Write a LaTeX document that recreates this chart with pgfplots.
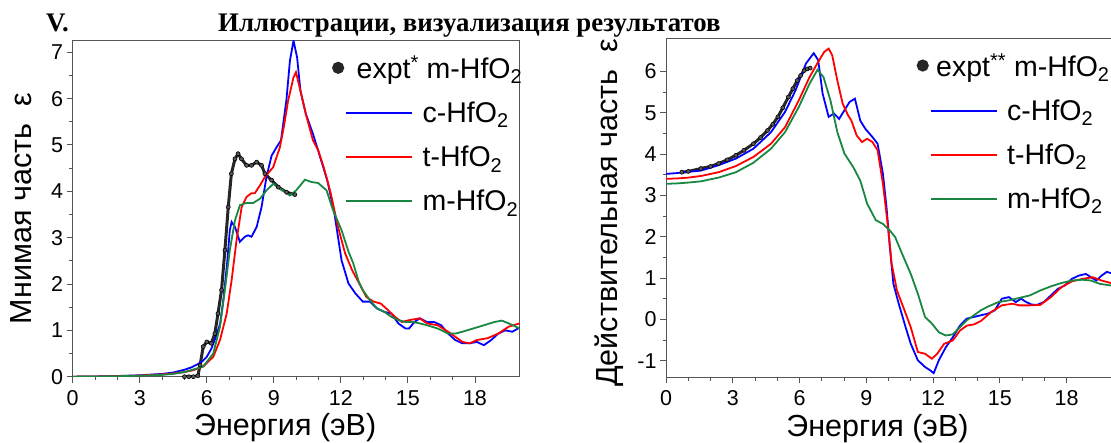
\documentclass[border=0pt]{standalone}
\usepackage{fontspec}
\setmainfont{Liberation Sans}
\newfontfamily\headfont{Liberation Serif}
\usepackage{pgfplots}
\pgfplotsset{compat=1.18}

\definecolor{cblue}{RGB}{0,0,255}
\definecolor{cred}{RGB}{255,0,0}
\definecolor{cgreen}{RGB}{25,135,65}
\definecolor{axgray}{RGB}{85,85,85}

\pgfplotsset{
  hfo/.style={
    scale only axis,
    xmin=0, xmax=20, xtick={0,3,...,18}, minor x tick num=2,
    tick align=outside, xtick pos=bottom, ytick pos=left,
    major tick length=6pt, minor tick length=3.5pt,
    every tick/.style={axgray, line width=1pt},
    axis line style={axgray, line width=1pt},
    tick label style={font=\fontsize{21.5}{25}\selectfont},
    xticklabel style={yshift=-4pt},
    /pgf/number format/assume math mode=true,
    label style={font=\fontsize{30.5}{34}\selectfont},
    xlabel style={at={(axis description cs:0.5,0)}, anchor=north, yshift=-37pt, xshift=-11pt, inner sep=0pt},
    legend style={draw=none, fill=none, inner sep=0pt,
      font=\fontsize{28.5}{32}\selectfont, nodes={inner sep=0pt}, row sep=22pt},
    legend cell align=left,
    legend image code/.code={\draw[#1, line width=2pt] (0pt,0pt) -- (66pt,0pt); \path (75pt,0pt);},
  },
  calc/.style={line width=1.8pt},
  expt/.style={black!85, line width=3pt, mark=*, mark size=2pt,
    mark options={fill=black!65, draw=black, line width=0.6pt},
    legend image code/.code={\fill[black!85] (-8pt,0pt) circle (4.5pt); \path (75pt,0pt);}},
}

\begin{document}
\begin{tikzpicture}
\path[use as bounding box] (0pt,0pt) rectangle (1111pt,443pt);

\node[anchor=base west, inner sep=0pt, font=\headfont\bfseries\fontsize{26.8}{30}\selectfont] at (46pt,411pt) {V.};
\node[anchor=base west, inner sep=0pt, font=\headfont\bfseries\fontsize{26.8}{30}\selectfont] at (218pt,411pt) {Иллюстрации, визуализация результатов};

% Imaginary part
\begin{axis}[hfo, at={(72.7pt,66.3pt)}, anchor=south west, width=447pt, height=336pt,
  ymin=0, ymax=7.25, ytick={0,...,7}, minor y tick num=1,
  xlabel={Энергия (эВ)}, ylabel={Мнимая часть\ \ ε},
  ylabel style={at={(axis description cs:-0.116,0.5)}, anchor=center},
  legend style={at={(axis description cs:0.580,0.956)}, anchor=north west}]
\addplot[expt] coordinates {(5.0,0) (5.2,0) (5.4,0) (5.6,0.02) (5.7,0.25) (5.84,0.65) (6.0,0.75) (6.2,0.72) (6.36,0.93) (6.5,1.36) (6.66,1.87) (6.81,2.73) (6.96,3.66) (7.1,4.38) (7.26,4.7) (7.4,4.81) (7.55,4.7) (7.78,4.56) (8.0,4.56) (8.23,4.63) (8.45,4.56) (8.6,4.38) (8.9,4.24) (9.2,4.09) (9.57,3.98) (9.94,3.93)};
\addplot[calc, cblue] coordinates {(0,0) (1,0.005) (2,0.015) (3,0.03) (4,0.06) (4.5,0.09) (5,0.15) (5.3,0.2) (5.6,0.27) (5.8,0.33) (6.0,0.43) (6.2,0.6) (6.4,0.85) (6.6,1.15) (6.75,1.7) (6.9,2.4) (7.03,3.16) (7.11,3.34) (7.26,3.23) (7.48,2.91) (7.7,3.02) (7.85,3.05) (8.0,3.02) (8.23,3.23) (8.45,3.66) (8.67,4.31) (8.9,4.77) (9.12,4.95) (9.32,5.1) (9.56,5.96) (9.72,6.82) (9.88,7.25) (10.04,6.89) (10.19,6.17) (10.43,5.67) (10.75,5.24) (11.07,4.74) (11.39,4.24) (11.71,3.52) (12.03,2.51) (12.34,2.01) (12.66,1.79) (12.98,1.62) (13.3,1.62) (13.62,1.47) (13.94,1.4) (14.26,1.36) (14.57,1.15) (14.89,1.04) (15.05,1.04) (15.29,1.18) (15.53,1.26) (15.85,1.18) (16.17,1.18) (16.49,1.11) (16.8,0.93) (17.12,0.79) (17.44,0.72) (17.76,0.72) (18.08,0.75) (18.4,0.68) (18.72,0.79) (19.04,0.93) (19.35,1.0) (19.67,0.97) (20,1.06)};
\addplot[calc, cred] coordinates {(0,0) (1,0.005) (2,0.012) (3,0.025) (4,0.05) (4.5,0.07) (5,0.1) (5.4,0.14) (5.84,0.22) (6.29,0.43) (6.59,0.79) (6.89,1.36) (7.11,2.08) (7.33,2.94) (7.56,3.66) (7.78,3.88) (8.0,3.96) (8.15,3.96) (8.38,4.13) (8.6,4.31) (8.97,4.52) (9.27,4.95) (9.45,5.4) (9.64,5.96) (9.88,6.46) (9.99,6.57) (10.19,6.17) (10.43,5.67) (10.75,5.1) (10.99,4.88) (11.23,4.52) (11.55,3.95) (11.87,3.23) (12.19,2.66) (12.5,2.3) (12.82,2.01) (13.14,1.72) (13.46,1.62) (13.78,1.58) (14.1,1.44) (14.42,1.29) (14.73,1.18) (15.05,1.22) (15.53,1.26) (15.85,1.15) (16.33,1.11) (16.8,0.97) (17.12,0.86) (17.44,0.75) (17.76,0.72) (18.08,0.79) (18.56,0.83) (19.04,0.93) (19.51,1.08) (20,1.15)};
\addplot[calc, cgreen] coordinates {(0,0) (1,0.004) (2,0.01) (3,0.02) (4,0.04) (4.5,0.06) (5,0.1) (5.5,0.17) (5.84,0.22) (6.29,0.5) (6.59,1.08) (6.81,1.87) (7.03,2.73) (7.26,3.37) (7.48,3.7) (7.78,3.75) (8.08,3.75) (8.38,3.84) (8.67,4.02) (8.97,4.16) (9.27,4.06) (9.72,3.91) (10.0,4.02) (10.39,4.25) (10.69,4.2) (10.98,4.18) (11.36,4.02) (11.65,3.59) (12.03,3.16) (12.34,2.7) (12.55,2.45) (12.8,2.05) (12.98,1.87) (13.3,1.65) (13.62,1.47) (13.94,1.4) (14.26,1.29) (14.57,1.22) (14.89,1.18) (15.21,1.18) (15.53,1.15) (15.85,1.11) (16.33,1.04) (16.8,0.93) (17.12,0.93) (17.44,0.97) (17.92,1.04) (18.4,1.11) (18.87,1.18) (19.2,1.21) (19.51,1.15) (20,1.04)};
\legend{\hspace*{-66pt}expt\textsuperscript{*} m-HfO\textsubscript{2}, c-HfO\textsubscript{2}, t-HfO\textsubscript{2}, m-HfO\textsubscript{2}}
\end{axis}

% Real part
\begin{axis}[hfo, at={(666pt,65.7pt)}, anchor=south west, width=445pt, height=339pt,
  ymin=-1.4, ymax=6.8, ytick={-1,...,6}, minor y tick num=1,
  xlabel={Энергия (эВ)}, ylabel={Действительная часть\ \ ε},
  ylabel style={at={(axis description cs:-0.127,0.485)}, anchor=center},
  legend style={at={(axis description cs:0.563,0.956)}, anchor=north west}]
\addplot[expt] coordinates {(0.71,3.56) (1.0,3.58) (1.57,3.65) (2.0,3.7) (2.36,3.77) (2.75,3.86) (3.14,3.97) (3.5,4.09) (3.93,4.25) (4.25,4.4) (4.56,4.57) (4.8,4.72) (5.03,4.9) (5.25,5.12) (5.5,5.38) (5.7,5.58) (5.9,5.78) (6.05,5.9) (6.21,6.02) (6.35,6.06) (6.48,6.08)};
\addplot[calc, cblue] coordinates {(0,3.52) (0.5,3.54) (1.0,3.57) (1.57,3.6) (2.36,3.73) (3.14,3.89) (3.93,4.13) (4.72,4.53) (5.35,5.02) (5.82,5.54) (6.29,6.19) (6.64,6.44) (6.84,6.27) (7.04,5.46) (7.31,4.9) (7.55,4.98) (7.78,4.85) (8.02,5.06) (8.25,5.26) (8.49,5.34) (8.73,4.81) (8.96,4.61) (9.28,4.41) (9.51,4.25) (9.75,3.52) (9.91,2.72) (10.06,1.75) (10.22,0.86) (10.46,0.38) (10.77,-0.19) (11.0,-0.59) (11.32,-0.99) (11.64,-1.15) (11.87,-1.23) (12.03,-1.3) (12.26,-0.99) (12.58,-0.67) (12.89,-0.43) (13.21,-0.15) (13.52,0.02) (13.84,0.06) (14.15,0.1) (14.47,0.14) (14.78,0.22) (15.09,0.5) (15.41,0.54) (15.72,0.42) (15.96,0.5) (16.19,0.42) (16.43,0.36) (16.67,0.35) (16.98,0.42) (17.3,0.58) (17.61,0.74) (17.92,0.82) (18.24,0.98) (18.55,1.06) (18.87,1.1) (19.1,1.02) (19.34,0.94) (19.58,1.06) (19.81,1.15) (20,1.12)};
\addplot[calc, cred] coordinates {(0,3.4) (0.5,3.41) (1.0,3.43) (1.57,3.47) (2.36,3.56) (3.14,3.71) (3.93,3.93) (4.72,4.25) (5.35,4.65) (5.97,5.3) (6.45,5.86) (6.84,6.23) (7.11,6.47) (7.31,6.55) (7.47,6.39) (7.7,5.78) (7.94,5.22) (8.18,4.94) (8.33,4.81) (8.57,4.45) (8.81,4.29) (9.04,4.37) (9.28,4.29) (9.51,4.09) (9.75,3.28) (9.98,2.23) (10.14,1.35) (10.38,0.7) (10.69,0.26) (11.0,-0.19) (11.32,-0.79) (11.64,-0.83) (11.95,-0.95) (12.19,-0.83) (12.5,-0.59) (12.89,-0.51) (13.21,-0.27) (13.52,-0.15) (13.84,-0.12) (14.15,-0.04) (14.62,0.18) (15.09,0.34) (15.57,0.38) (15.88,0.34) (16.35,0.34) (16.82,0.35) (17.3,0.54) (17.77,0.78) (18.24,0.92) (18.71,0.98) (19.18,1.02) (19.58,0.94) (20,0.88)};
\addplot[calc, cgreen] coordinates {(0,3.28) (0.5,3.29) (1.0,3.31) (1.57,3.34) (2.36,3.43) (3.14,3.56) (3.93,3.79) (4.72,4.13) (5.35,4.53) (5.97,5.14) (6.45,5.7) (6.81,6.04) (7.08,5.86) (7.39,5.3) (7.7,4.53) (8.02,4.01) (8.41,3.69) (8.73,3.36) (9.04,2.8) (9.43,2.4) (9.75,2.31) (10.06,2.15) (10.3,1.99) (10.61,1.59) (11.0,1.1) (11.32,0.62) (11.64,0.06) (11.95,-0.1) (12.26,-0.31) (12.58,-0.39) (12.89,-0.36) (13.21,-0.19) (13.52,-0.02) (13.84,0.1) (14.15,0.22) (14.47,0.31) (14.94,0.42) (15.41,0.46) (15.88,0.52) (16.35,0.58) (16.82,0.7) (17.3,0.8) (17.77,0.88) (18.24,0.94) (18.71,0.96) (19.1,0.94) (19.5,0.86) (20,0.82)};
\legend{\hspace*{-71pt}expt\textsuperscript{**} m-HfO\textsubscript{2}, c-HfO\textsubscript{2}, t-HfO\textsubscript{2}, m-HfO\textsubscript{2}}
\end{axis}
\end{tikzpicture}
\end{document}
